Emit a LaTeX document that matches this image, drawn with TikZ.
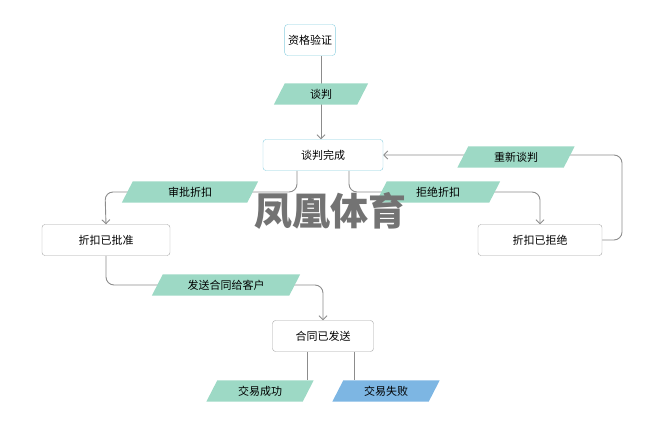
\documentclass[tikz,border=0pt]{standalone}
\usepackage{fontspec}
\setmainfont{Noto Sans CJK SC}
\usetikzlibrary{positioning,backgrounds,arrows.meta}
\definecolor{grn}{HTML}{9DD9C5}
\definecolor{blu}{HTML}{7DB6E3}
\definecolor{edge}{HTML}{8C8C8C}
\definecolor{lblue}{HTML}{8ACFE0}

\begin{document}
\begin{tikzpicture}[
  x=1pt, y=-1pt,
  font=\fontsize{11}{13}\selectfont,
  box/.style={draw=gray!70, rounded corners=3pt, fill=white, minimum height=31pt},
  hibox/.style={box, draw=lblue},
  para/.style={minimum height=21pt, inner sep=0pt},
  arrow/.style={-{Straight Barb[length=4pt,width=8pt]}, edge, line width=0.9pt, rounded corners=8pt},
  link/.style={edge, line width=0.9pt}
]
\useasboundingbox (0,0) rectangle (660,423);

% States
\node[hibox, minimum width=48pt] (check) at (310,40) {资格验证};
\node[hibox, minimum width=120pt] (done) at (323,155) {谈判完成};
\node[box, minimum width=128pt] (ok) at (106,240) {折扣已批准};
\node[box, minimum width=124pt] (no) at (540,240) {折扣已拒绝};
\node[box, minimum width=101pt] (sent) at (323,336) {合同已发送};

% Transitions
\node[para, minimum width=94pt] (talk) at (321,94) {谈判};
\node[para, minimum width=136pt] (approve) at (190,192) {审批折扣};
\node[para, minimum width=124pt] (reject) at (438,192) {拒绝折扣};
\node[para, minimum width=117pt] (retalk) at (516,157) {重新谈判};
\node[para, minimum width=148pt] (send) at (226,285) {发送合同给客户};
\node[para, minimum width=107pt] (win) at (260,391) {交易成功};
\node[para, minimum width=107pt] (lose) at (386,391) {交易失败};

\node[text=gray!90!black, font=\fontsize{38}{40}\selectfont\bfseries] (mark) at (330,211) {凤凰体育};

\begin{scope}[on background layer]
  % Arrows
  \draw[arrow] (check.south -| talk) -- (done.north -| talk);
  \draw[arrow] ([xshift=-26pt]done.south) -- (297,192) -- (105,192) -- (ok.north);
  \draw[arrow] ([xshift=26pt]done.south) -- (349,192) -- (540,192) -- (no.north);
  \draw[arrow] (no.east) -- (622,240) -- (622,155) -- (done.east);
  \draw[arrow] (ok.south) -- (106,285) -- (323,285) -- (sent.north);
  \draw[link] ([xshift=-16pt]sent.south) -- ([xshift=-16pt]sent.south |- win.north);
  \draw[link] ([xshift=31pt]sent.south) -- ([xshift=31pt]sent.south |- lose.north);
  % Parallelograms
  \foreach \n/\c in {talk/grn, approve/grn, reject/grn, retalk/grn, send/grn, win/grn, lose/blu}
    \fill[\c] ([xshift=11pt]\n.north west) -- (\n.north east) -- ([xshift=-11pt]\n.south east) -- (\n.south west) -- cycle;
\end{scope}
\end{tikzpicture}
\end{document}
